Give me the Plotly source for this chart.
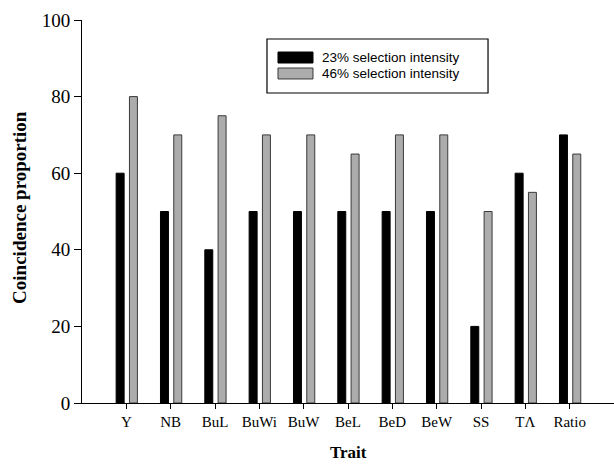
import plotly.graph_objects as go

traits = ["Y", "NB", "BuL", "BuWi", "BuW", "BeL", "BeD", "BeW", "SS", "TΛ", "Ratio"]
sel23 = [60, 50, 40, 50, 50, 50, 50, 50, 20, 60, 70]
sel46 = [80, 70, 75, 70, 70, 65, 70, 70, 50, 55, 65]
y_ticks = [0, 20, 40, 60, 80, 100]
series_names = ["23% selection intensity", "46% selection intensity"]

BLACK = "black"
GRAY = "#acacac"
GRAY_EDGE = "#3a3a3a"
SERIF = "Liberation Serif, Times New Roman, serif"
SANS = "Liberation Sans, Arial, sans-serif"

xpos = list(range(len(traits)))

fig = go.Figure()
fig.add_trace(go.Bar(
    x=xpos, y=sel23, name=series_names[0],
    width=0.18, offset=-0.23, showlegend=False,
    marker=dict(color=BLACK, line=dict(color=BLACK, width=1)),
))
fig.add_trace(go.Bar(
    x=xpos, y=sel46, name=series_names[1],
    width=0.18, offset=0.07, showlegend=False,
    marker=dict(color=GRAY, line=dict(color=GRAY_EDGE, width=1)),
))

# custom legend (box, swatches, labels) in paper coordinates
shapes = [
    dict(type="rect", xref="paper", yref="paper", x0=0.3477, x1=0.7632, y0=0.8094, y1=0.9504,
         line=dict(color="black", width=1.2), fillcolor="white", layer="above"),
    dict(type="rect", xref="paper", yref="paper", x0=0.3684, x1=0.4342, y0=0.8877, y1=0.9164,
         line=dict(color=BLACK, width=1), fillcolor=BLACK, layer="above"),
    dict(type="rect", xref="paper", yref="paper", x0=0.3684, x1=0.4342, y0=0.8460, y1=0.8747,
         line=dict(color=GRAY_EDGE, width=1), fillcolor=GRAY, layer="above"),
]
annotations = [
    dict(text=series_names[0], xref="paper", yref="paper", x=0.4474, y=0.9021,
         xanchor="left", yanchor="middle", showarrow=False,
         font=dict(family=SANS, size=13.5, color="black")),
    dict(text=series_names[1], xref="paper", yref="paper", x=0.4474, y=0.8603,
         xanchor="left", yanchor="middle", showarrow=False,
         font=dict(family=SANS, size=13.5, color="black")),
    dict(text="<b>Trait</b>", xref="paper", yref="paper", x=0.5, y=-0.13,
         xanchor="center", yanchor="middle", showarrow=False,
         font=dict(family=SERIF, size=17, color="black")),
    dict(text="<b>Coincidence proportion</b>", xref="paper", yref="paper", x=-0.118, y=0.51,
         xanchor="center", yanchor="middle", showarrow=False, textangle=-90,
         font=dict(family=SERIF, size=19, color="black")),
]

fig.update_layout(
    width=614, height=465,
    margin=dict(l=82, r=0, t=20, b=62, autoexpand=False),
    plot_bgcolor="white", paper_bgcolor="white",
    barmode="overlay",
    showlegend=False,
    shapes=shapes,
    annotations=annotations,
    font=dict(family=SERIF, color="black"),
)
fig.update_xaxes(
    range=[-1, 11], tickmode="array", tickvals=xpos, ticktext=traits,
    showline=True, linecolor="black", linewidth=1,
    ticks="outside", ticklen=5, tickcolor="black",
    tickfont=dict(family=SERIF, size=15, color="black"),
    showgrid=False, zeroline=False,
)
fig.update_yaxes(
    range=[0, 100], tickmode="array", tickvals=y_ticks,
    showline=True, linecolor="black", linewidth=1,
    ticks="outside", ticklen=7, tickcolor="black",
    tickfont=dict(family=SERIF, size=19, color="black"),
    showgrid=False, zeroline=False,
)

fig.write_html(
    "out.html",
    config={"displayModeBar": False},
    post_script="document.body.style.margin='0';document.body.style.overflow='hidden';",
)
